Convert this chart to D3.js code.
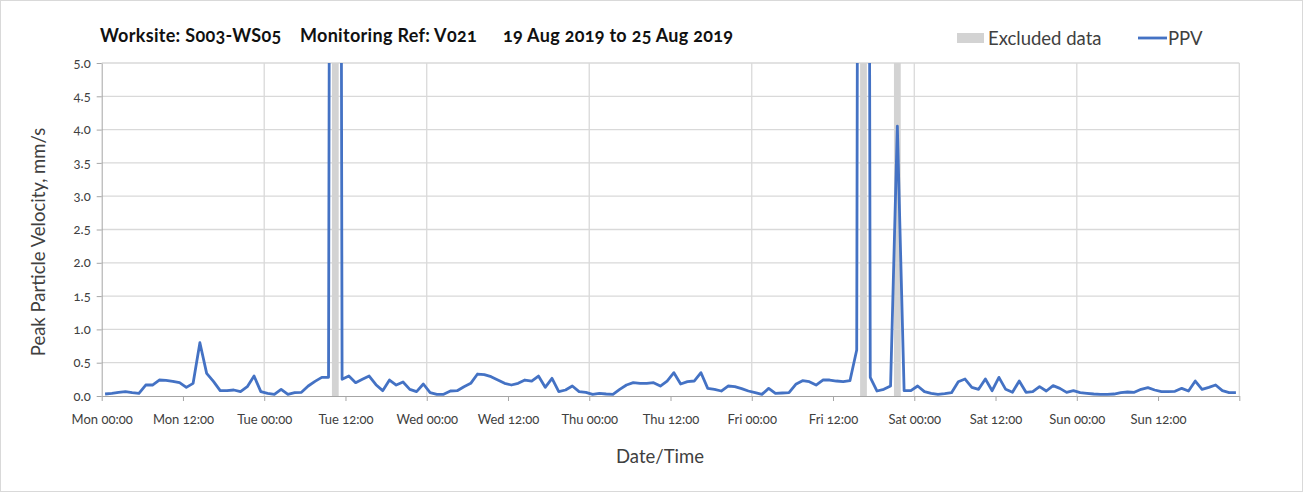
<!DOCTYPE html>
<html>
<head>
<meta charset="utf-8">
<script src="https://cdn.jsdelivr.net/npm/d3@7"></script>
<style>
  body { margin: 0; background: #fff; }
  svg { display: block; font-family: Lato, "Open Sans", sans-serif; font-variant-numeric: oldstyle-nums; }
  .tick text { fill: #404040; font-size: 13px; }
</style>
</head>
<body>
<svg width="1303" height="492"></svg>
<script>
// hourly PPV readings (mm/s), one array per day, starting Mon 19 Aug 2019 00:00
const monPPV = [0.03, 0.04, 0.055, 0.065, 0.05, 0.04, 0.165, 0.165, 0.24, 0.235, 0.22, 0.2, 0.13, 0.19, 0.8, 0.34, 0.22, 0.08, 0.08, 0.09, 0.065, 0.14, 0.3, 0.065];
const tuePPV = [0.04, 0.025, 0.1, 0.025, 0.05, 0.055, 0.15, 0.22, 0.28, 0.28, 50, 0.25, 0.3, 0.2, 0.25, 0.3, 0.17, 0.08, 0.24, 0.165, 0.21, 0.1, 0.065, 0.18];
const wedPPV = [0.05, 0.025, 0.025, 0.075, 0.08, 0.14, 0.19, 0.33, 0.32, 0.29, 0.24, 0.19, 0.165, 0.19, 0.24, 0.225, 0.3, 0.13, 0.265, 0.065, 0.09, 0.15, 0.065, 0.055];
const thuPPV = [0.025, 0.04, 0.03, 0.025, 0.1, 0.165, 0.2, 0.19, 0.19, 0.2, 0.15, 0.225, 0.35, 0.18, 0.215, 0.225, 0.35, 0.115, 0.1, 0.075, 0.15, 0.14, 0.11, 0.075];
const friPPV = [0.05, 0.025, 0.115, 0.04, 0.045, 0.05, 0.175, 0.23, 0.215, 0.165, 0.24, 0.24, 0.225, 0.215, 0.23, 0.69, 50, 0.28, 0.075, 0.1, 0.15, 4.05, 0.08, 0.08];
const satPPV = [0.15, 0.065, 0.04, 0.025, 0.035, 0.05, 0.215, 0.255, 0.13, 0.1, 0.255, 0.08, 0.28, 0.1, 0.055, 0.225, 0.055, 0.065, 0.14, 0.075, 0.155, 0.115, 0.055, 0.08];
const sunPPV = [0.05, 0.04, 0.03, 0.025, 0.025, 0.03, 0.05, 0.06, 0.055, 0.1, 0.125, 0.09, 0.065, 0.065, 0.07, 0.115, 0.075, 0.225, 0.1, 0.13, 0.165, 0.08, 0.05, 0.05];

// hours (from start) flagged as excluded
const excludedHours = [34, 112, 117];

const yTicks = [0, 0.5, 1, 1.5, 2, 2.5, 3, 3.5, 4, 4.5, 5];
const startDate = new Date(2019, 7, 19);
const endDate = new Date(2019, 7, 26);

const ppv = [].concat(monPPV, tuePPV, wedPPV, thuPPV, friPPV, satPPV, sunPPV);
const data = ppv.map((v, i) => ({ t: d3.timeMinute.offset(startDate, i * 60 + 30), v: v }));

const svg = d3.select("svg");
const plotL = 101.7, plotR = 1239.3, plotT = 63, plotB = 396;

const x = d3.scaleTime().domain([startDate, endDate]).range([plotL, plotR]);
const y = d3.scaleLinear().domain([0, 5]).range([plotB, plotT]);

// outer border
svg.append("rect")
    .attr("x", 0.5).attr("y", 0.5)
    .attr("width", 1302).attr("height", 491)
    .attr("fill", "#fff").attr("stroke", "#d9d9d9");

// grid
svg.append("g")
    .selectAll("line")
    .data(yTicks.slice(1))
    .enter().append("line")
    .attr("x1", plotL).attr("x2", plotR)
    .attr("y1", d => y(d)).attr("y2", d => y(d))
    .attr("stroke", "#d9d9d9").attr("stroke-width", 1.3);

svg.append("g")
    .selectAll("line")
    .data(d3.timeDay.range(d3.timeDay.offset(startDate, 1), d3.timeDay.offset(endDate, 1)))
    .enter().append("line")
    .attr("x1", d => x(d)).attr("x2", d => x(d))
    .attr("y1", plotT).attr("y2", plotB)
    .attr("stroke", "#d9d9d9").attr("stroke-width", 1.3);

// excluded bands
svg.append("g")
    .selectAll("rect")
    .data(excludedHours)
    .enter().append("rect")
    .attr("x", d => x(d3.timeHour.offset(startDate, d)))
    .attr("width", d => x(d3.timeHour.offset(startDate, d + 1)) - x(d3.timeHour.offset(startDate, d)))
    .attr("y", plotT).attr("height", plotB - plotT)
    .attr("fill", "#d3d3d3");

svg.append("clipPath").attr("id", "plot")
  .append("rect")
    .attr("x", plotL).attr("y", plotT)
    .attr("width", plotR - plotL).attr("height", plotB - plotT);

const line = d3.line()
    .x(d => x(d.t))
    .y(d => y(d.v));

svg.append("path")
    .datum(data)
    .attr("clip-path", "url(#plot)")
    .attr("fill", "none")
    .attr("stroke", "#4472c4")
    .attr("stroke-width", 2.8)
    .attr("stroke-linejoin", "round")
    .attr("d", line);

// axes
const fmt = d3.timeFormat("%a %H:%M");
const xAxis = svg.append("g")
    .attr("transform", `translate(0,${plotB})`)
    .attr("font-family", null)
    .call(d3.axisBottom(x)
        .ticks(d3.timeHour.every(12))
        .tickSize(5)
        .tickSizeOuter(0)
        .tickFormat(d => d < endDate ? fmt(d) : ""));
xAxis.attr("font-family", null).attr("font-size", null);
xAxis.select(".domain").attr("stroke", "#a6a6a6");
xAxis.selectAll(".tick line").attr("stroke", "#a6a6a6");
xAxis.selectAll(".tick text").attr("dy", "1.55em");

const yAxis = svg.append("g")
    .attr("transform", `translate(${plotL},0)`)
    .call(d3.axisLeft(y)
        .tickValues(yTicks)
        .tickSize(5)
        .tickSizeOuter(0)
        .tickFormat(d3.format(".1f")));
yAxis.attr("font-family", null).attr("font-size", null);
yAxis.select(".domain").attr("stroke", "#a6a6a6");
yAxis.selectAll(".tick line").attr("stroke", "#a6a6a6");
yAxis.selectAll(".tick text").attr("x", -11);

// titles
const title = svg.append("g")
    .attr("font-weight", "bold").attr("font-size", 18)
    .attr("letter-spacing", 0.3).attr("fill", "#111");
title.append("text").attr("x", 100).attr("y", 42).text("Worksite: S003-WS05");
title.append("text").attr("x", 300).attr("y", 42).text("Monitoring Ref: V021");
title.append("text").attr("x", 503).attr("y", 42).text("19 Aug 2019 to 25 Aug 2019");

svg.append("text")
    .attr("transform", "translate(45,242) rotate(-90)")
    .attr("text-anchor", "middle")
    .attr("font-size", 18.5).attr("fill", "#404040")
    .text("Peak Particle Velocity, mm/s");

svg.append("text")
    .attr("x", 660).attr("y", 463)
    .attr("text-anchor", "middle")
    .attr("font-size", 18.5).attr("fill", "#404040")
    .text("Date/Time");

// legend
svg.append("rect")
    .attr("x", 957).attr("y", 33).attr("width", 27).attr("height", 10)
    .attr("fill", "#d3d3d3");
svg.append("text")
    .attr("x", 988).attr("y", 45).attr("font-size", 18.5).attr("fill", "#404040")
    .text("Excluded data");
svg.append("line")
    .attr("x1", 1138).attr("x2", 1167).attr("y1", 38).attr("y2", 38)
    .attr("stroke", "#4472c4").attr("stroke-width", 2.8);
svg.append("text")
    .attr("x", 1168).attr("y", 45).attr("font-size", 18.5).attr("fill", "#404040")
    .text("PPV");
</script>
</body>
</html>
